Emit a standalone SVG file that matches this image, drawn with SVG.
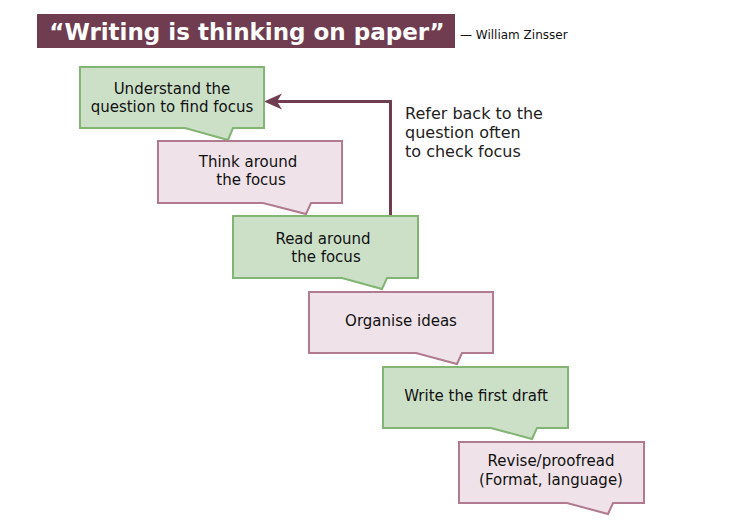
<svg xmlns="http://www.w3.org/2000/svg" width="750" height="530" viewBox="0 0 750 530">
<style>
.g{fill:#cce0c8;stroke:#82b474;stroke-width:2}
.p{fill:#efe2e8;stroke:#b07a90;stroke-width:2}
.t{font-family:"DejaVu Sans",Verdana,sans-serif;font-size:15px;fill:#111;text-anchor:middle}
.n{font-family:"DejaVu Sans",Verdana,sans-serif;font-size:16px;fill:#222}
</style>
<rect x="0" y="0" width="750" height="530" fill="#fff"/>
<g id="title">
<rect x="37" y="14" width="418" height="34" fill="#6f3d4f"/>
<text x="247" y="40" font-family="'DejaVu Sans',Verdana,sans-serif" font-size="23" font-weight="bold" fill="#fff" text-anchor="middle">“Writing is thinking on paper”</text>
<text x="460" y="39" font-family="'DejaVu Sans',Verdana,sans-serif" font-size="12" fill="#111">— William Zinsser</text>
</g>
<g id="connectors">
<path d="M390.5,216 V101.5 H276" fill="none" stroke="#6f3d4f" stroke-width="3"/>
<path d="M264,101.5 L282,93.5 L277,101.5 L282,109.5 Z" fill="#6f3d4f"/>
</g>
<g id="note">
<text class="n" x="405" y="119">Refer back to the</text>
<text class="n" x="405" y="138">question often</text>
<text class="n" x="405" y="157">to check focus</text>
</g>
<g id="n1">
<path class="g" d="M80,67 H264 V128 H233 L228,140 L185,128 H80 Z"/>
<text class="t" x="172" y="94">Understand the</text>
<text class="t" x="172" y="112">question to find focus</text>
</g>
<g id="n2">
<path class="p" d="M158,141 H342 V203 H311 L306,214 L263,203 H158 Z"/>
<text class="t" x="248" y="167">Think around</text>
<text class="t" x="251" y="185">the focus</text>
</g>
<g id="n3">
<path class="g" d="M233,216 H418 V278 H387 L382,289 L342,278 H233 Z"/>
<text class="t" x="323" y="244">Read around</text>
<text class="t" x="326" y="262">the focus</text>
</g>
<g id="n4">
<path class="p" d="M309,292 H493 V353 H462 L457,364 L416,353 H309 Z"/>
<text class="t" x="401" y="326">Organise ideas</text>
</g>
<g id="n5">
<path class="g" d="M383,367 H568 V428 H537 L532,439 L491,428 H383 Z"/>
<text class="t" x="476" y="401">Write the first draft</text>
</g>
<g id="n6">
<path class="p" d="M459,442 H644 V503 H613 L608,514 L567,503 H459 Z"/>
<text class="t" x="551" y="466">Revise/proofread</text>
<text class="t" x="551" y="485">(Format, language)</text>
</g>
</svg>
